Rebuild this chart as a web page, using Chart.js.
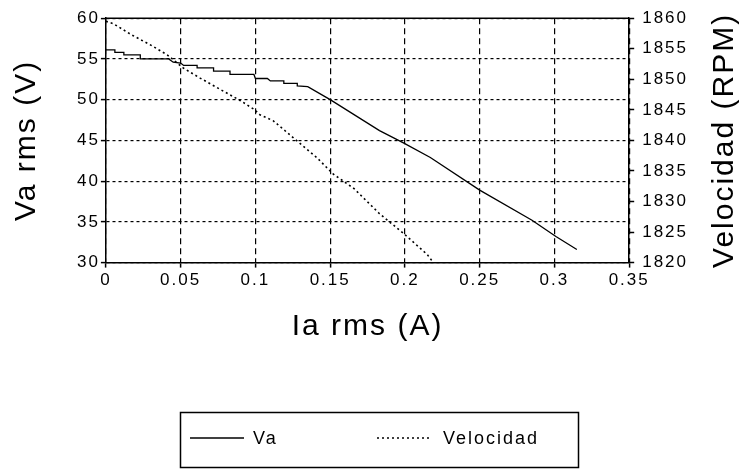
<!DOCTYPE html>
<html>
<head>
<meta charset="utf-8">
<script src="https://cdn.jsdelivr.net/npm/chart.js@4.4.0/dist/chart.umd.min.js"></script>
<style>
  html, body { margin: 0; padding: 0; background: #fff; }
</style>
</head>
<body>
<canvas id="myChart" width="745" height="469"></canvas>
<script>
// Va rms (V) vs Ia rms (A)
const vaX = [0, 0.006, 0.006, 0.012, 0.012, 0.023, 0.023, 0.042, 0.045, 0.05, 0.052, 0.061, 0.061, 0.072, 0.072, 0.083, 0.083, 0.099, 0.1, 0.108, 0.11, 0.119, 0.119, 0.128, 0.128, 0.135, 0.15, 0.183, 0.199, 0.217, 0.25, 0.285, 0.301, 0.315];
const vaY = [56.1, 56.1, 55.8, 55.8, 55.5, 55.5, 55.0, 55.0, 54.6, 54.5, 54.2, 54.2, 53.9, 53.9, 53.5, 53.5, 53.1, 53.1, 52.6, 52.6, 52.3, 52.3, 52.0, 52.0, 51.7, 51.6, 50.0, 46.2, 44.7, 42.9, 38.9, 35.2, 33.2, 31.6];

// Velocidad (RPM) vs Ia rms (A)
const velX = [0, 0.005, 0.017, 0.03, 0.041, 0.052, 0.063, 0.079, 0.09, 0.099, 0.103, 0.112, 0.125, 0.141, 0.152, 0.166, 0.183, 0.199, 0.215, 0.219];
const velY = [1859.5, 1859.1, 1857.3, 1855.6, 1854.0, 1851.8, 1850.2, 1848.0, 1846.5, 1845.1, 1844.2, 1843.2, 1840.5, 1837.2, 1834.5, 1832.1, 1828.0, 1824.8, 1821.3, 1820.0];

const xTickLabels = ["0", "0.05", "0.1", "0.15", "0.2", "0.25", "0.3", "0.35"];
const vaTickLabels = ["30", "35", "40", "45", "50", "55", "60"];
const velTickLabels = ["1820", "1825", "1830", "1835", "1840", "1845", "1850", "1855", "1860"];

const FONT = '"Liberation Sans", Arial, sans-serif';

const spacing = {
  id: "spacing",
  beforeUpdate(chart) { chart.ctx.letterSpacing = "2px"; },
  beforeDraw(chart) { chart.ctx.letterSpacing = "2px"; }
};

const extras = {
  id: "extras",
  afterDraw(chart) {
    const ctx = chart.ctx;
    const area = chart.chartArea;
    ctx.save();
    ctx.strokeStyle = "#000";
    ctx.lineWidth = 1.5;
    // top border of plot
    ctx.beginPath();
    ctx.moveTo(area.left, area.top);
    ctx.lineTo(area.right, area.top);
    ctx.stroke();

    // legend box
    ctx.strokeRect(180.5, 412.5, 398, 55);
    const starts = [190, 377];
    chart.data.datasets.forEach((ds, i) => {
      const x0 = starts[i];
      ctx.setLineDash(ds.borderDash || []);
      ctx.lineWidth = ds.borderWidth;
      ctx.beginPath();
      ctx.moveTo(x0, 438);
      ctx.lineTo(x0 + 54, 438);
      ctx.stroke();
      ctx.setLineDash([]);
      ctx.fillStyle = "#000";
      ctx.font = "18px " + FONT;
      ctx.textBaseline = "middle";
      ctx.fillText(ds.label, x0 + (i === 0 ? 63 : 66), 439);
    });

    // right axis title (reads bottom to top)
    ctx.translate(725, (area.top + area.bottom) / 2);
    ctx.rotate(-Math.PI / 2);
    ctx.textAlign = "center";
    ctx.textBaseline = "middle";
    ctx.font = "30px " + FONT;
    ctx.fillText("Velocidad (RPM)", 0, 0);
    ctx.restore();
  }
};

const ctx = document.getElementById("myChart").getContext("2d");
const myChart = new Chart(ctx, {
  type: "line",
  data: {
    datasets: [
      {
        label: "Va",
        data: vaX.map((x, i) => ({ x: x, y: vaY[i] })),
        yAxisID: "y",
        borderColor: "#000",
        borderWidth: 1.3,
        borderDash: [],
        pointRadius: 0,
        tension: 0,
        fill: false
      },
      {
        label: "Velocidad",
        data: velX.map((x, i) => ({ x: x, y: velY[i] })),
        yAxisID: "y1",
        borderColor: "#000",
        borderWidth: 1.6,
        borderDash: [2, 3],
        pointRadius: 0,
        tension: 0,
        fill: false
      }
    ]
  },
  options: {
    responsive: false,
    animation: false,
    layout: { padding: { left: 8, right: 49, top: 15, bottom: 124 } },
    plugins: {
      legend: { display: false },
      tooltip: { enabled: false }
    },
    scales: {
      x: {
        type: "linear",
        min: 0,
        max: 0.35,
        ticks: {
          stepSize: 0.05,
          color: "#000",
          padding: 3,
          font: { family: FONT, size: 17 },
          callback: (value, index) => xTickLabels[index]
        },
        grid: { color: "#000", lineWidth: 1.2, tickLength: 5, tickWidth: 1.5 },
        border: { color: "#000", width: 1.5, dash: [6, 4] },
        title: {
          display: true,
          text: "Ia rms (A)",
          color: "#000",
          font: { family: FONT, size: 30 },
          padding: { top: 15, bottom: 0 }
        }
      },
      y: {
        position: "left",
        min: 30,
        max: 60,
        ticks: {
          stepSize: 5,
          color: "#000",
          padding: 1,
          font: { family: FONT, size: 17 },
          callback: (value, index) => vaTickLabels[index]
        },
        grid: { color: "#000", lineWidth: 1.2, tickLength: 5, tickWidth: 1.5 },
        border: { color: "#000", width: 1.5, dash: [3, 3] },
        title: {
          display: true,
          text: "Va rms (V)",
          color: "#000",
          font: { family: FONT, size: 30 },
          padding: { top: 1, bottom: 31 }
        }
      },
      y1: {
        position: "right",
        min: 1820,
        max: 1860,
        ticks: {
          stepSize: 5,
          color: "#000",
          padding: 8,
          font: { family: FONT, size: 17 },
          callback: (value, index) => velTickLabels[index]
        },
        grid: { drawOnChartArea: false, color: "#000", tickLength: 5, tickWidth: 1.5 },
        border: { color: "#000", width: 1.5 }
      }
    }
  },
  plugins: [spacing, extras]
});
</script>
</body>
</html>
